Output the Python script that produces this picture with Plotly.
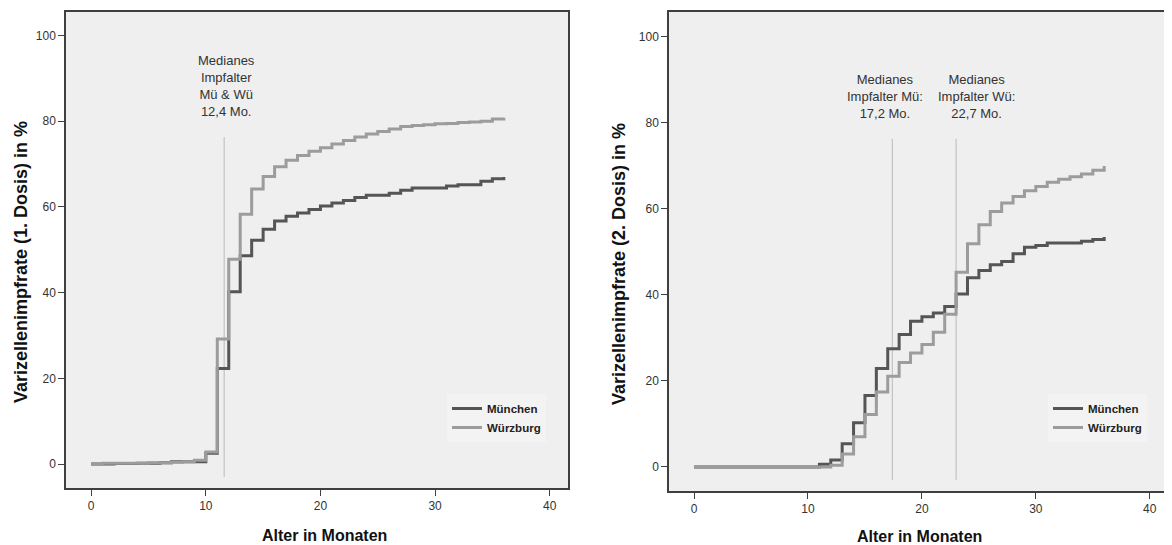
import plotly.graph_objects as go

# ---------------- data ----------------
months = list(range(37))

# 1. Dosis (left panel), cumulative % by month of age
muc_dose1 = [0.0, 0.0, 0.1, 0.1, 0.2, 0.2, 0.3, 0.5, 0.5, 0.5,
             2.5, 22.3, 40.2, 48.6, 52.2, 54.8, 56.7, 57.8, 58.6, 59.4,
             60.2, 60.9, 61.5, 62.2, 62.7, 62.7, 63.2, 63.9, 64.4, 64.4,
             64.4, 64.9, 65.2, 65.2, 66.0, 66.6, 67.0]
wue_dose1 = [0.0, 0.2, 0.2, 0.2, 0.2, 0.3, 0.3, 0.4, 0.5, 0.9,
             2.8, 29.2, 47.8, 58.3, 64.2, 67.1, 69.4, 70.9, 72.0, 73.0,
             73.8, 74.7, 75.5, 76.3, 77.0, 77.6, 78.2, 78.8, 79.0, 79.2,
             79.4, 79.5, 79.7, 79.8, 80.0, 80.5, 80.8]

# 2. Dosis (right panel)
muc_dose2 = [0.0, 0.0, 0.0, 0.0, 0.0, 0.0, 0.0, 0.0, 0.0, 0.0,
             0.0, 0.6, 1.6, 5.4, 10.3, 16.6, 22.9, 27.5, 30.8, 33.9,
             34.9, 35.8, 37.3, 40.2, 44.0, 45.7, 47.0, 47.8, 49.6, 51.1,
             51.5, 52.1, 52.1, 52.1, 52.5, 52.9, 53.5]
wue_dose2 = [0.0, 0.0, 0.0, 0.0, 0.0, 0.0, 0.0, 0.0, 0.0, 0.0,
             0.0, 0.0, 0.4, 3.0, 7.0, 12.2, 17.4, 21.1, 24.3, 26.5,
             28.5, 31.3, 35.5, 45.3, 51.9, 56.3, 59.4, 61.4, 62.9, 64.2,
             65.2, 66.2, 66.9, 67.5, 68.1, 69.0, 70.0]

series_names = ["München", "Würzburg"]

# median reference lines (x position as drawn, vertical extent)
median1_x = [11.6]
median2_x = [17.4, 23.0]
median_line_y = [-3.0, 76.3]

median1_labels = ["Medianes<br>Impfalter<br>Mü & Wü<br>12,4 Mo."]
median1_label_x = [11.8]
median2_labels = ["Medianes<br>Impfalter Mü:<br>17,2 Mo.",
                  "Medianes<br>Impfalter Wü:<br>22,7 Mo."]
median2_label_x = [16.75, 24.75]
median_label_y = 80.0

x_ticks = [0, 10, 20, 30, 40]
y_ticks = [0, 20, 40, 60, 80, 100]

y_titles = ["Varizellenimpfrate (1. Dosis) in %", "Varizellenimpfrate (2. Dosis) in %"]
x_title = "Alter in Monaten"

# ---------------- styling ----------------
C_MUC = "#555555"
C_WUE = "#9c9c9c"
C_MED = "#b9b9b9"
PLOT_BG = "#efefef"
FRAME = "#3f3f3f"
FONT = "Liberation Sans, Arial, sans-serif"

fig = go.Figure()

def add_steps(xa, ya, legend, muc, wue):
    fig.add_trace(go.Scatter(x=months, y=muc, mode="lines", line_shape="hv",
                             line=dict(color=C_MUC, width=3), name=series_names[0],
                             xaxis=xa, yaxis=ya, legend=legend, hoverinfo="skip"))
    fig.add_trace(go.Scatter(x=months, y=wue, mode="lines", line_shape="hv",
                             line=dict(color=C_WUE, width=3), name=series_names[1],
                             xaxis=xa, yaxis=ya, legend=legend, hoverinfo="skip"))

# median lines first (behind)
for mx in median1_x:
    fig.add_trace(go.Scatter(x=[mx, mx], y=median_line_y, mode="lines",
                             line=dict(color=C_MED, width=1), showlegend=False,
                             xaxis="x", yaxis="y", hoverinfo="skip"))
for mx in median2_x:
    fig.add_trace(go.Scatter(x=[mx, mx], y=median_line_y, mode="lines",
                             line=dict(color=C_MED, width=1), showlegend=False,
                             xaxis="x2", yaxis="y2", hoverinfo="skip"))

add_steps("x", "y", "legend", muc_dose1, wue_dose1)
add_steps("x2", "y2", "legend2", muc_dose2, wue_dose2)

# page body has an 8px margin: shift the figure so it lands at the window origin
OFF = 8
W, H = 1172 - OFF, 545 - OFF
def px(v):
    return (v - OFF) / W
def py(v):
    return 1 - (v - OFF) / H

axis_common = dict(
    showgrid=False, zeroline=False, showline=True, mirror=True,
    linecolor=FRAME, linewidth=1.5, ticks="outside", ticklen=6,
    tickcolor=FRAME, tickwidth=1.2,
    tickfont=dict(family=FONT, size=12, color="#333333"),
)

legend_common = dict(xanchor="left", yanchor="top", bgcolor="#f3f3f3",
                     borderwidth=0, tracegroupgap=0, itemwidth=30,
                     font=dict(family=FONT, size=11.5, color="#222222", weight="bold"))

fig.update_layout(
    width=W, height=H,
    paper_bgcolor="white", plot_bgcolor=PLOT_BG,
    margin=dict(l=0, r=0, t=0, b=0),
    font=dict(family=FONT),
    xaxis=dict(domain=[px(66), px(568)], range=[-2.2, 41.6], tickvals=x_ticks,
               anchor="y", **axis_common),
    yaxis=dict(domain=[py(488), py(12)], range=[-5.6, 105.5], tickvals=y_ticks,
               anchor="x", **axis_common),
    xaxis2=dict(domain=[px(669), px(1168)], range=[-2.2, 41.6], tickvals=x_ticks,
                anchor="y2", **axis_common),
    yaxis2=dict(domain=[py(491), py(12)], range=[-5.6, 105.8], tickvals=y_ticks,
                anchor="x2", **axis_common),
    legend=dict(x=px(447), y=py(394), **legend_common),
    legend2=dict(x=px(1048), y=py(394), **legend_common),
    showlegend=True,
)

ann_font = dict(family=FONT, size=13, color="#333333")
for lx, txt in zip(median1_label_x, median1_labels):
    fig.add_annotation(x=lx, y=median_label_y, xref="x", yref="y", text=txt,
                       showarrow=False, xanchor="center", yanchor="bottom",
                       font=ann_font, align="center")
for lx, txt in zip(median2_label_x, median2_labels):
    fig.add_annotation(x=lx, y=median_label_y, xref="x2", yref="y2", text=txt,
                       showarrow=False, xanchor="center", yanchor="bottom",
                       font=ann_font, align="center")

ytitle_font = dict(family=FONT, size=18, color="#111111", weight="bold")
xtitle_font = dict(family=FONT, size=16, color="#111111", weight="bold")
# y titles
fig.add_annotation(x=px(21), y=py(262), xref="paper", yref="paper", text=y_titles[0],
                   textangle=-90, showarrow=False, xanchor="center", yanchor="middle",
                   font=ytitle_font)
fig.add_annotation(x=px(619), y=py(264), xref="paper", yref="paper", text=y_titles[1],
                   textangle=-90, showarrow=False, xanchor="center", yanchor="middle",
                   font=ytitle_font)
# x titles
fig.add_annotation(x=px(324), y=py(535), xref="paper", yref="paper", text=x_title,
                   showarrow=False, xanchor="center", yanchor="middle", font=xtitle_font)
fig.add_annotation(x=px(919), y=py(536), xref="paper", yref="paper", text=x_title,
                   showarrow=False, xanchor="center", yanchor="middle", font=xtitle_font)

fig.write_html("out.html")
